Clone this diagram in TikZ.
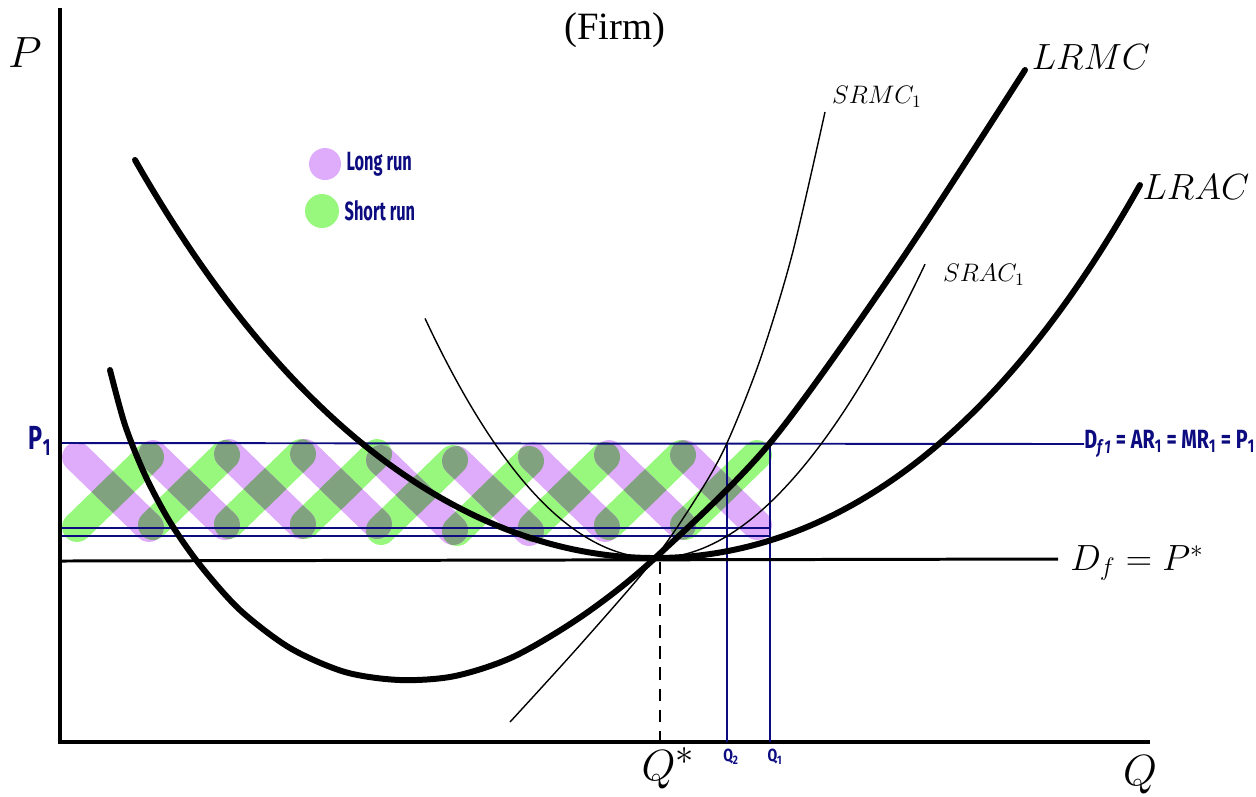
\documentclass[tikz,border=0pt]{standalone}
\usepackage{fontspec}
\newfontfamily\firmfont{Liberation Serif}
\newfontfamily\penfont{Fira Sans}
\usetikzlibrary{positioning}

\definecolor{penblue}{RGB}{12,12,128}
\definecolor{lrpurple}{RGB}{222,172,250}
\definecolor{srgreen}{RGB}{152,248,126}
\definecolor{bothgreen}{RGB}{128,162,126}

\tikzset{
  axisline/.style={line width=2.3pt},
  bigcurve/.style={line width=3.4pt, line cap=round},
  smallcurve/.style={line width=0.8pt},
  bluerule/.style={penblue, line width=1.1pt},
  runstroke/.style={line width=17pt, line cap=round},
  mathlbl/.style={inner sep=0pt},
  penlbl/.style={penblue, inner sep=0pt, font=\penfont\bfseries},
}

\begin{document}
\begin{tikzpicture}[x=0.02cm, y=-0.02cm,
    declare function={lrac(\t)=558-(13*\t*\t+0.0915*\t*\t*\t*\t+0.145*\t*\t*\t);
                      srac(\t)=558-(43-1*\t)*\t*\t;}]

  % same frame as the sketch
  \useasboundingbox (0,0) rectangle (1256,796);

  % short run strokes (/)
  \foreach \cx/\cy in {113/492,189/490,265/489,341/489,417/495,493/496,569/492,645/490,721/490} {
    \draw[runstroke, srgreen] (\cx-36,\cy+35) -- (\cx+36,\cy-35);
  }
  % long run strokes (\)
  \foreach \cx/\cy in {113/492,189/490,265/489,341/489,417/495,493/496,569/492,645/490,721/490} {
    \draw[runstroke, lrpurple] (\cx-36,\cy-35) -- (\cx+36,\cy+35);
  }
  % where both runs cross: clip to the green strokes, redraw the purple ones darker
  \begin{scope}
    \clip \foreach \cx/\cy in {113/492,189/490,265/489,341/489,417/495,493/496,569/492,645/490,721/490} {
      (\cx-25.55,\cy+45.75) -- (\cx+46.45,\cy-24.25)
      arc[start angle=45.8, end angle=-134.2, radius=15]
      -- (\cx-46.45,\cy+24.25)
      arc[start angle=-134.2, end angle=-314.2, radius=15] -- cycle
    };
    \foreach \cx/\cy in {113/492,189/490,265/489,341/489,417/495,493/496,569/492,645/490,721/490} {
      \draw[runstroke, bothgreen] (\cx-36,\cy-35) -- (\cx+36,\cy+35);
    }
  \end{scope}

  % axes
  \draw[axisline] (60,8) -- (60,742);
  \draw[axisline] (58,742) -- (1150,742);
  \node[mathlbl, font=\fontsize{24.88}{28}\selectfont] (plbl) at (25,53) {$P$};
  \node[mathlbl, font=\fontsize{24.88}{28}\selectfont] (qlbl) at (1140,775) {$Q$};
  \node[inner sep=0pt, font=\firmfont\fontsize{22}{26}\selectfont] (firm) at (615,30) {(Firm)};

  % legend
  \node[circle, fill=lrpurple, minimum size=0.64cm, inner sep=0pt] (longdot) at (325,164) {};
  \node[circle, fill=srgreen, minimum size=0.68cm, inner sep=0pt] (shortdot) at (322,211) {};
  \node[penlbl, font=\penfont\bfseries\fontsize{15}{17}\selectfont, right=0.1cm of longdot] (longtxt) {\scalebox{0.62}[1]{Long run}};
  \node[penlbl, font=\penfont\bfseries\fontsize{15}{17}\selectfont, right=0.1cm of shortdot] (shorttxt) {\scalebox{0.62}[1]{Short run}};

  % blue price level and quantities
  \node[penlbl, font=\penfont\bfseries\fontsize{19}{21}\selectfont] (ponelbl) at (40,441) {\scalebox{0.7}[1]{P\textsubscript{1}}};
  \node[penlbl, font=\penfont\bfseries\fontsize{15}{17}\selectfont, anchor=west] (dfonelbl) at (1084,444)
    {\scalebox{0.75}[1]{D\textsubscript{\itshape f\,1} = AR\textsubscript{1} = MR\textsubscript{1} = P\textsubscript{1}}};
  \draw[bluerule] (62,443) -- (dfonelbl.west);
  \draw[bluerule] (62,528) -- (770,528);
  \draw[bluerule] (62,536) -- (770,536);
  \coordinate (qtwotop) at (727,443);
  \coordinate (qonetop) at (770,443);
  \node[penlbl, font=\penfont\bfseries\fontsize{10}{12}\selectfont] (qtwolbl) at (731,757) {\scalebox{0.8}[1]{Q\textsubscript{2}}};
  \node[penlbl, font=\penfont\bfseries\fontsize{10}{12}\selectfont] (qonelbl) at (775,757) {\scalebox{0.8}[1]{Q\textsubscript{1}}};
  \draw[bluerule] (qtwotop) -- (727,742);
  \draw[bluerule] (qonetop) -- (770,742);

  % demand line and long run minimum
  \node[mathlbl, font=\fontsize{20.74}{24}\selectfont, anchor=west] (dflbl) at (1070,563) {$D_f=P^{*}$};
  \draw[line width=1.7pt] (60,561) -- (1058,559);
  \node[mathlbl, font=\fontsize{24.88}{28}\selectfont] (qstarlbl) at (668,768) {$Q^{*}$};
  \draw[line width=1.2pt, dash pattern=on 7pt off 5pt] (660,562) -- (660,742);

  % long run curves
  \draw[bigcurve] plot[domain=135:1140, samples=120, smooth] (\x, {lrac((\x-655)/100)});
  \draw[bigcurve] plot[smooth] coordinates {(110,370) (125,425) (145,475) (170,522) (200,565)
    (240,610) (290,648) (345,672) (400,680) (455,676) (515,656) (585,614) (655,558)
    (770,443) (900,262) (1025,70)};
  \node[mathlbl, font=\fontsize{20.74}{24}\selectfont] (lrmclbl) at (1091,57) {$LRMC$};
  \node[mathlbl, font=\fontsize{20.74}{24}\selectfont] (lraclbl) at (1196,187) {$LRAC$};

  % short run curves
  \draw[smallcurve] plot[domain=425:925, samples=100, smooth] (\x, {srac((\x-655)/100)});
  \draw[smallcurve] plot[smooth] coordinates {(510,722) (580,645) (655,558) (700,492) (727,443)
    (760,360) (792,255) (825,112)};
  \node[mathlbl, font=\fontsize{14.4}{17}\selectfont] (srmclbl) at (877,97) {$SRMC_1$};
  \node[mathlbl, font=\fontsize{14.4}{17}\selectfont] (sraclbl) at (984,275) {$SRAC_1$};

\end{tikzpicture}
\end{document}
